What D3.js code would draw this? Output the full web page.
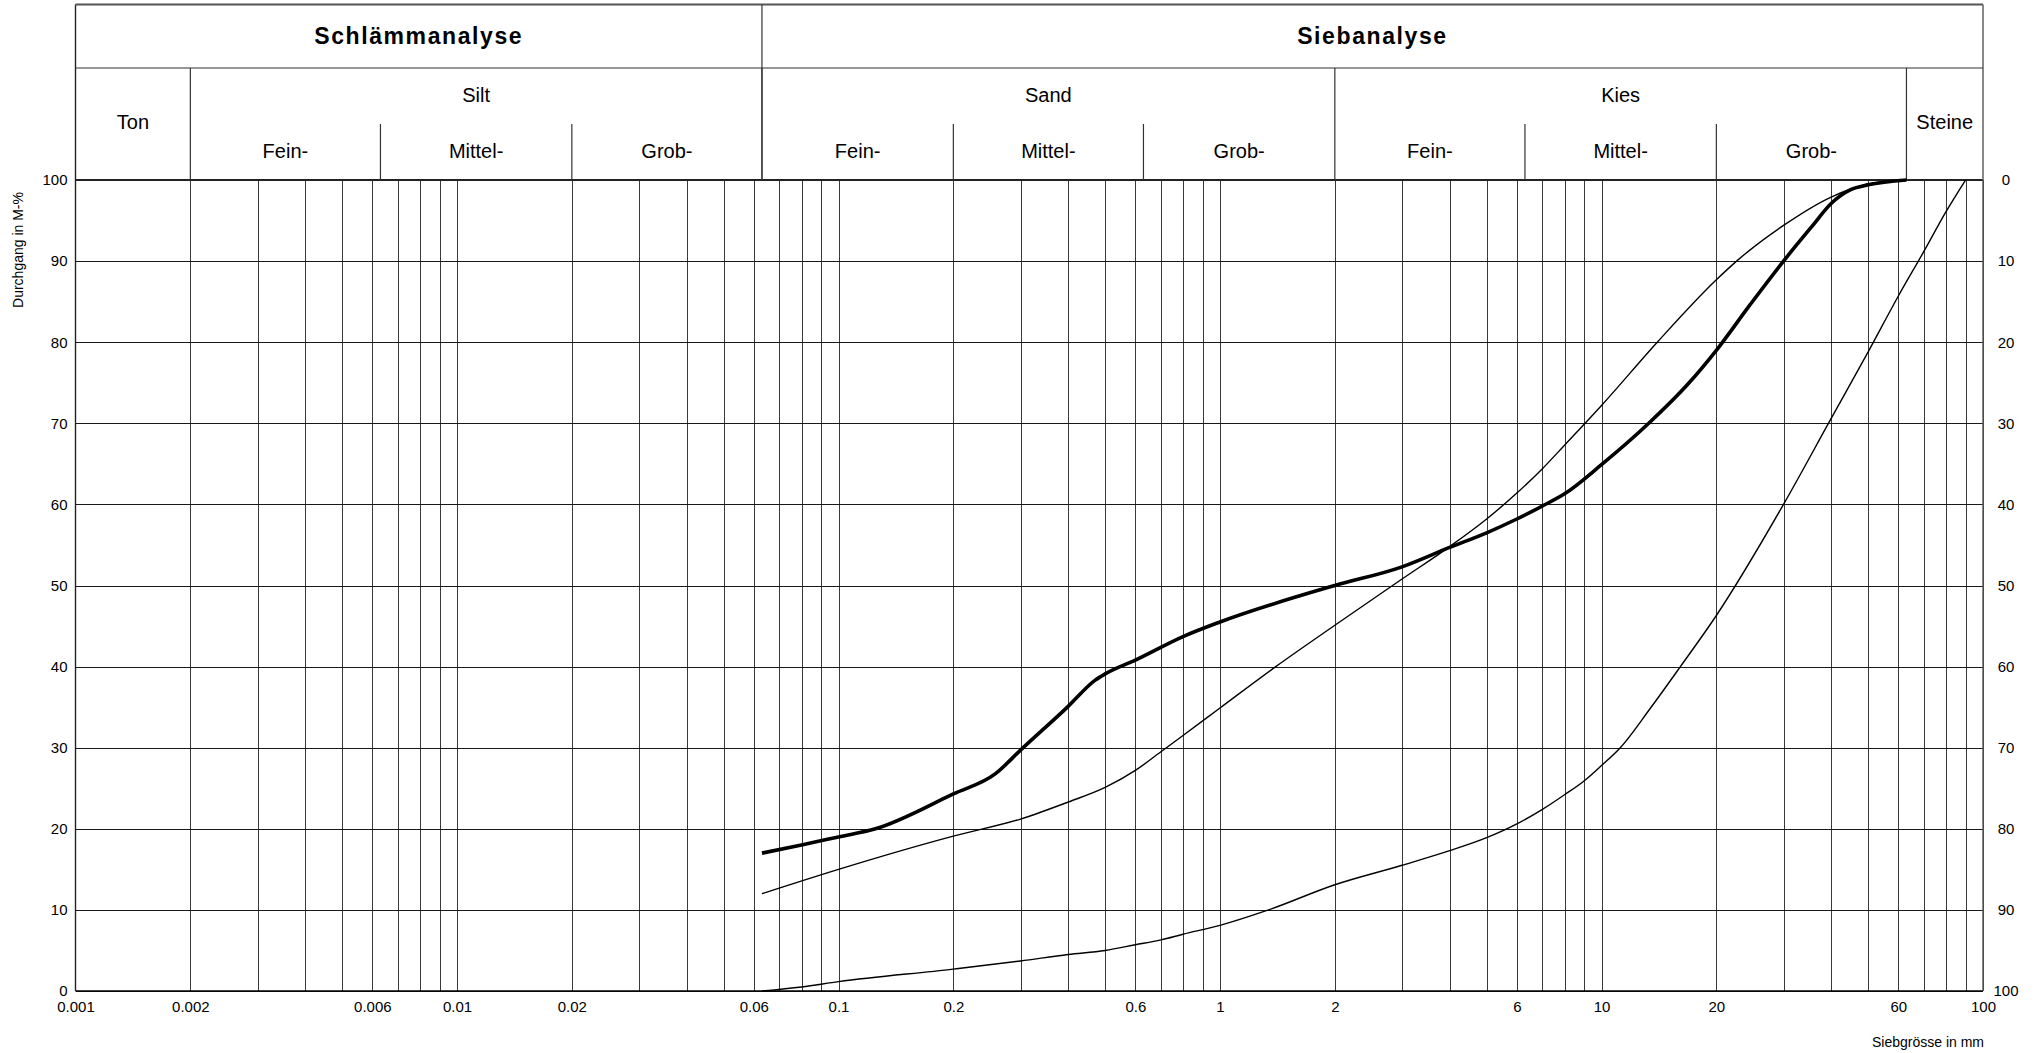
<!DOCTYPE html>
<html>
<head>
<meta charset="utf-8">
<script src="https://cdn.jsdelivr.net/npm/d3@7"></script>
<style>
  html, body { margin: 0; padding: 0; background: #fff; }
  svg { display: block; font-family: "Liberation Sans", Arial, sans-serif; }
</style>
</head>
<body>
<svg id="chart" width="2037" height="1053"></svg>
<script>
// ---------- data ----------
const xTickLabels = [0.001, 0.002, 0.006, 0.01, 0.02, 0.06, 0.1, 0.2, 0.6, 1, 2, 6, 10, 20, 60, 100];
const yTicks = [0, 10, 20, 30, 40, 50, 60, 70, 80, 90, 100];

const analysisHeaders = [
  { label: "Schlämmanalyse", from: 0.001, to: 0.063 },
  { label: "Siebanalyse", from: 0.063, to: 100 }
];
const soilGroups = [
  { label: "Ton", from: 0.001, to: 0.002, span: true },
  { label: "Silt", from: 0.002, to: 0.063, span: false },
  { label: "Sand", from: 0.063, to: 2, span: false },
  { label: "Kies", from: 2, to: 63, span: false },
  { label: "Steine", from: 63, to: 100, span: true }
];
const subGroups = [
  { label: "Fein-", from: 0.002, to: 0.0063 },
  { label: "Mittel-", from: 0.0063, to: 0.02 },
  { label: "Grob-", from: 0.02, to: 0.063 },
  { label: "Fein-", from: 0.063, to: 0.2 },
  { label: "Mittel-", from: 0.2, to: 0.63 },
  { label: "Grob-", from: 0.63, to: 2 },
  { label: "Fein-", from: 2, to: 6.3 },
  { label: "Mittel-", from: 6.3, to: 20 },
  { label: "Grob-", from: 20, to: 63 }
];

// grain size (mm) and passing (%)
const sampleSizes   = [0.063, 0.08, 0.1, 0.125, 0.2, 0.258, 0.3, 0.4, 0.47, 0.5, 0.6, 0.8, 1, 2, 3, 4, 5, 6, 7, 8, 10, 13.3, 16.9, 20, 24.5, 30, 35.5, 40, 45, 50, 63];
const samplePassing = [17.0, 18.0, 19.0, 20.0, 24.3, 26.8, 29.7, 35.1, 38.3, 39.1, 40.8, 43.7, 45.5, 50.0, 52.3, 54.7, 56.5, 58.2, 59.8, 61.3, 64.9, 70.0, 74.9, 79.0, 84.6, 90.0, 94.2, 97.1, 98.8, 99.4, 100];

const upperSizes   = [0.063, 0.1, 0.2, 0.3, 0.4, 0.5, 0.6, 0.7, 0.8, 1, 1.4, 2, 3, 4, 5, 6, 7, 8, 10, 14, 20, 22.6, 30, 40, 50, 63];
const upperPassing = [12.0, 15.0, 19.1, 21.2, 23.3, 25.1, 27.2, 29.5, 31.5, 34.9, 40.0, 45.1, 50.8, 54.8, 58.2, 61.4, 64.4, 67.3, 72.2, 80.0, 87.7, 90.0, 94.4, 97.9, 99.5, 100];

const lowerSizes   = [0.063, 0.08, 0.1, 0.2, 0.3, 0.4, 0.5, 0.6, 0.7, 0.8, 1, 1.34, 2, 3, 4, 5, 6, 7, 8, 9, 10, 11.2, 13.4, 16.1, 20, 30, 40, 50, 60, 70, 80, 90];
const lowerPassing = [0.0, 0.5, 1.15, 2.7, 3.7, 4.5, 5.0, 5.7, 6.3, 7.0, 8.1, 10.0, 13.1, 15.5, 17.3, 18.9, 20.6, 22.4, 24.2, 25.9, 27.8, 30.0, 34.8, 40.0, 46.3, 60.0, 70.6, 78.8, 85.7, 91.2, 96.1, 100];

const seriesList = [
  { name: "Probe", sizes: sampleSizes, passing: samplePassing, width: 3.6 },
  { name: "Grenze oben", sizes: upperSizes, passing: upperPassing, width: 1.4 },
  { name: "Grenze unten", sizes: lowerSizes, passing: lowerPassing, width: 1.4 }
];

// ---------- layout ----------
const plotLeft = 75.5, plotRight = 1983, plotTop = 180, plotBottom = 991;
const headTop = 4.5, row1 = 68, row2 = 124;

const svg = d3.select("#chart");
const x = d3.scaleLog().domain([0.001, 100]).range([plotLeft, plotRight]);
const y = d3.scaleLinear().domain([0, 100]).range([plotBottom, plotTop]);
const yR = d3.scaleLinear().domain([100, 0]).range([plotBottom, plotTop]);

// vertical grid: 2..10 x 10^k
const gridValues = [];
for (let k = -3; k <= 1; k++) {
  for (let m = 2; m <= 10; m++) gridValues.push(+(m * Math.pow(10, k)).toPrecision(6));
}

const gridV = svg.append("g")
  .attr("transform", `translate(0,${plotBottom})`)
  .call(d3.axisBottom(x).tickValues(gridValues).tickSize(-(plotBottom - plotTop)).tickFormat(""));
gridV.select(".domain").remove();
gridV.selectAll(".tick line").attr("stroke", "#3a3a3a").attr("stroke-width", 1).attr("shape-rendering", "crispEdges");

const gridH = svg.append("g")
  .attr("transform", `translate(${plotLeft},0)`)
  .call(d3.axisLeft(y).tickValues(yTicks).tickSize(-(plotRight - plotLeft)).tickFormat(""));
gridH.select(".domain").remove();
gridH.selectAll(".tick line").attr("stroke", "#1a1a1a").attr("stroke-width", 1).attr("shape-rendering", "crispEdges");

// x labels
const xAxis = svg.append("g")
  .attr("transform", `translate(0,${plotBottom})`)
  .call(d3.axisBottom(x).tickValues(xTickLabels).tickSize(0).tickPadding(10).tickFormat(d => String(d)));
xAxis.select(".domain").remove();
xAxis.selectAll("text").attr("font-size", 15).attr("fill", "#000").attr("font-family", "Liberation Sans, Arial, sans-serif");

// left y labels
const yAxisL = svg.append("g")
  .attr("transform", `translate(${plotLeft},0)`)
  .call(d3.axisLeft(y).tickValues(yTicks).tickSize(0).tickPadding(8));
yAxisL.select(".domain").remove();
yAxisL.selectAll("text").attr("font-size", 15).attr("fill", "#000").attr("font-family", "Liberation Sans, Arial, sans-serif");

// right y labels
const yAxisR = svg.append("g")
  .attr("transform", `translate(${plotRight},0)`)
  .call(d3.axisRight(yR).tickValues(yTicks).tickSize(0).tickPadding(23));
yAxisR.select(".domain").remove();
yAxisR.selectAll("text").attr("font-size", 15).attr("fill", "#000").attr("text-anchor", "middle").attr("font-family", "Liberation Sans, Arial, sans-serif");

// plot border lines
svg.append("line").attr("x1", plotLeft).attr("x2", plotRight).attr("y1", plotBottom).attr("y2", plotBottom)
  .attr("stroke", "#000").attr("stroke-width", 1.6);
svg.append("line").attr("x1", plotLeft).attr("x2", plotRight).attr("y1", plotTop).attr("y2", plotTop)
  .attr("stroke", "#222").attr("stroke-width", 2);
svg.append("line").attr("x1", plotLeft).attr("x2", plotLeft).attr("y1", headTop).attr("y2", plotBottom)
  .attr("stroke", "#222").attr("stroke-width", 1.4);
svg.append("line").attr("x1", plotRight).attr("x2", plotRight).attr("y1", headTop).attr("y2", plotBottom)
  .attr("stroke", "#555").attr("stroke-width", 1.4);

// header
const head = svg.append("g");
head.append("line").attr("x1", plotLeft).attr("x2", plotRight).attr("y1", headTop).attr("y2", headTop)
  .attr("stroke", "#555").attr("stroke-width", 2);
head.append("line").attr("x1", plotLeft).attr("x2", plotRight).attr("y1", row1).attr("y2", row1)
  .attr("stroke", "#333").attr("stroke-width", 1.2);

analysisHeaders.forEach((h, i) => {
  if (i > 0) head.append("line").attr("x1", x(h.from)).attr("x2", x(h.from)).attr("y1", headTop).attr("y2", plotTop)
    .attr("stroke", "#333").attr("stroke-width", 1.2);
  head.append("text").attr("x", (x(h.from) + x(h.to)) / 2).attr("y", (headTop + row1) / 2 + 8)
    .attr("text-anchor", "middle").attr("font-size", 23).attr("font-weight", "bold")
    .attr("letter-spacing", "1.6px").text(h.label);
});

soilGroups.forEach((g, i) => {
  if (i > 0) head.append("line").attr("x1", x(g.from)).attr("x2", x(g.from)).attr("y1", row1).attr("y2", plotTop)
    .attr("stroke", "#333").attr("stroke-width", 1.2);
  head.append("text").attr("x", (x(g.from) + x(g.to)) / 2)
    .attr("y", g.span ? 129 : 102)
    .attr("text-anchor", "middle").attr("font-size", 20).text(g.label);
});

subGroups.forEach((s, i) => {
  const bound = soilGroups.some(g => Math.abs(g.from - s.from) < 1e-9);
  if (!bound) head.append("line").attr("x1", x(s.from)).attr("x2", x(s.from)).attr("y1", row2).attr("y2", plotTop)
    .attr("stroke", "#333").attr("stroke-width", 1.2);
  head.append("text").attr("x", (x(s.from) + x(s.to)) / 2).attr("y", 158)
    .attr("text-anchor", "middle").attr("font-size", 20).text(s.label);
});

// axis titles
svg.append("text").attr("transform", `translate(23,250) rotate(-90)`)
  .attr("text-anchor", "middle").attr("font-size", 14).text("Durchgang in M-%");
svg.append("text").attr("x", 1984).attr("y", 1047)
  .attr("text-anchor", "end").attr("font-size", 14).text("Siebgrösse in mm");

// curves
const line = d3.line().x(d => x(d[0])).y(d => y(d[1])).curve(d3.curveMonotoneX);
seriesList.forEach(s => {
  svg.append("path")
    .datum(s.sizes.map((v, i) => [v, s.passing[i]]))
    .attr("d", line)
    .attr("fill", "none").attr("stroke", "#000").attr("stroke-width", s.width)
    .attr("stroke-linejoin", "round");
});
</script>
</body>
</html>
